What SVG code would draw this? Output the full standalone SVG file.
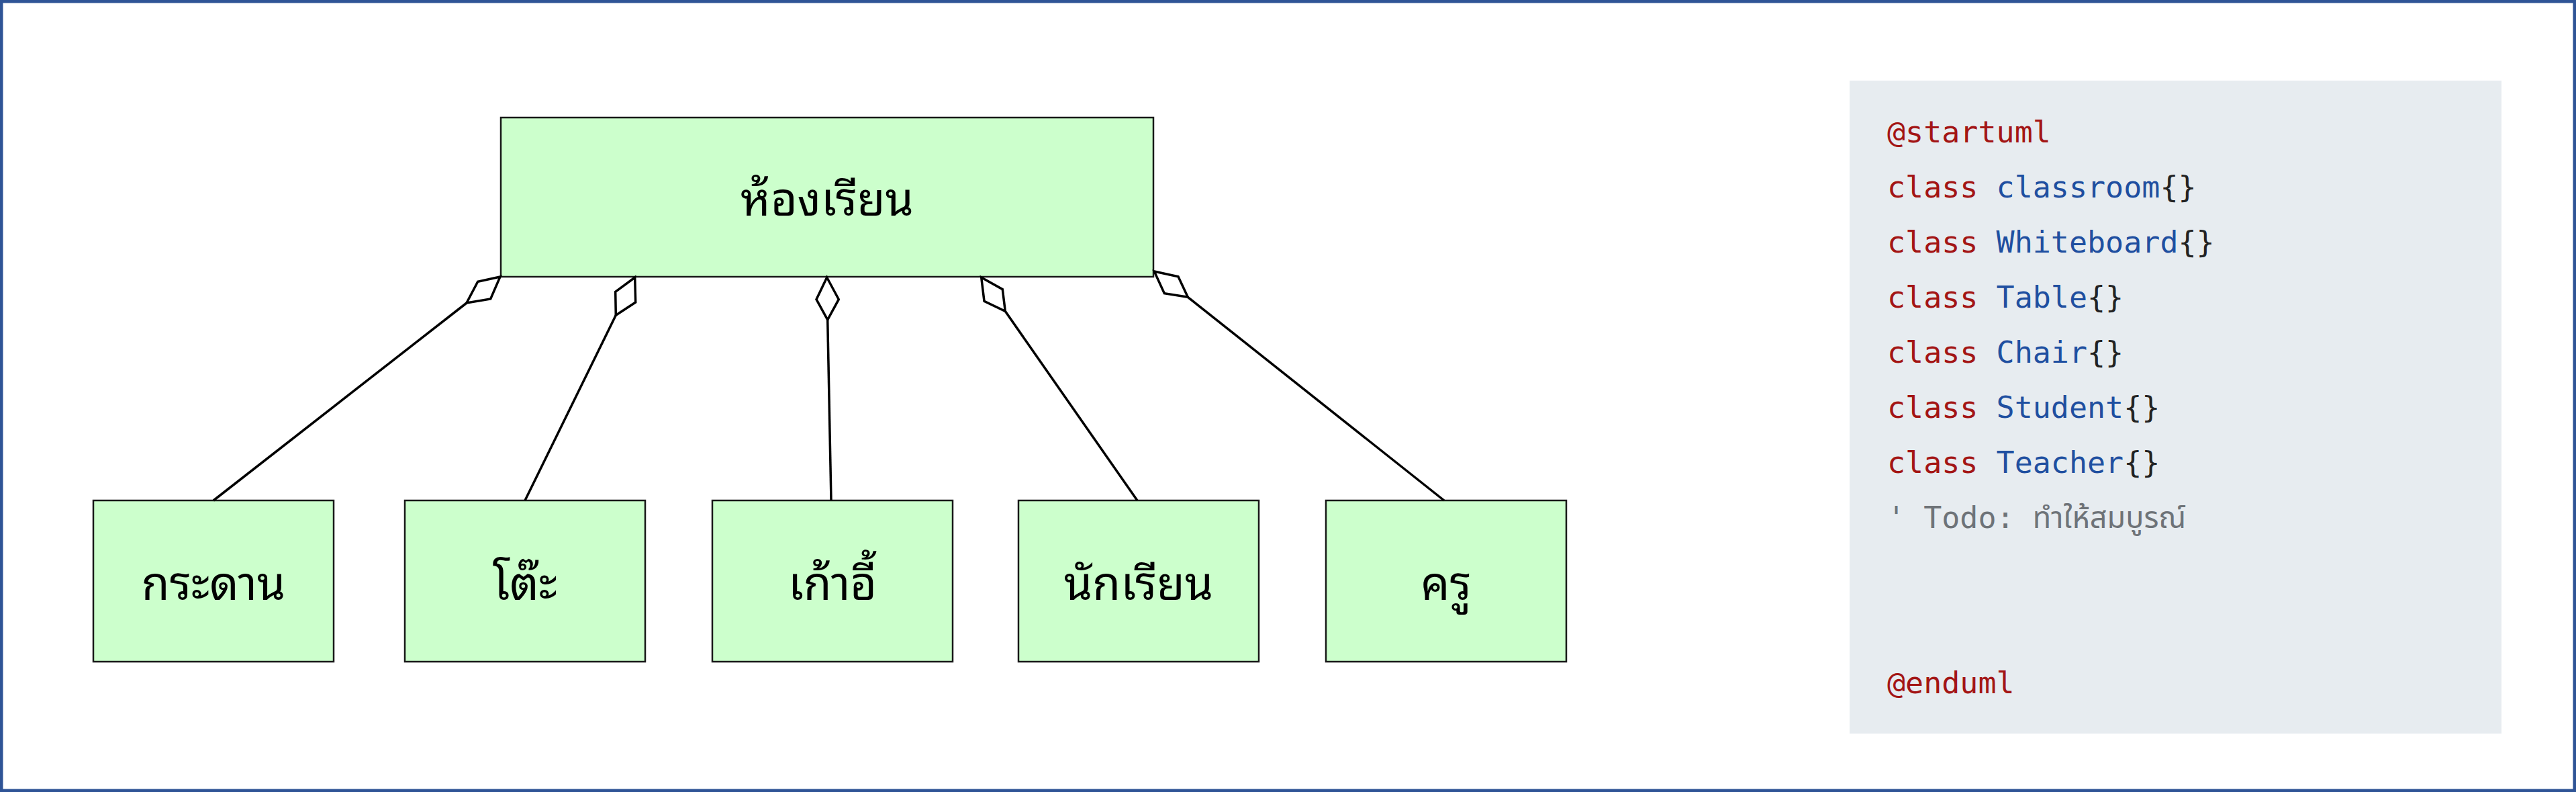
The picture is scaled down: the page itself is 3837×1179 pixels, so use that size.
<svg xmlns="http://www.w3.org/2000/svg" width="3837" height="1179" viewBox="0 0 3837 1179">
<style>
.node rect{fill:#CCFFCC;stroke:#181818;stroke-width:2.5}
.lbl{font-family:"Noto Sans Thai Looped","Noto Sans Thai","Tahoma","Noto Sans","DejaVu Sans",sans-serif;font-size:68px;fill:#000;text-anchor:middle}
.conn line{stroke:#000;stroke-width:3.5}
.conn polygon{fill:#fff;stroke:#000;stroke-width:3.5;stroke-linejoin:miter}
.code{font-family:"DejaVu Sans Mono","Liberation Mono","Noto Sans Thai",monospace;font-size:45px}
.kw{fill:#A31515}
.nm{fill:#1F4FA0}
.br{fill:#222}
.cm{fill:#6E7378}
</style>
<rect x="0" y="0" width="3837" height="1179" fill="#fff"/>
<rect x="2.25" y="2.25" width="3832.5" height="1174.5" fill="none" stroke="#2F5496" stroke-width="4.5"/>
<g id="classroom" class="node">
<rect x="746" y="175" width="972" height="237"/>
<text class="lbl" x="1232" y="321">ห้องเรียน</text>
</g>
<g id="whiteboard" class="node">
<rect x="139" y="745" width="358" height="240"/>
<text class="lbl" x="318" y="893">กระดาน</text>
</g>
<g id="table" class="node">
<rect x="603" y="745" width="358" height="240"/>
<text class="lbl" x="782" y="893">โต๊ะ</text>
</g>
<g id="chair" class="node">
<rect x="1061" y="745" width="358" height="240"/>
<text class="lbl" x="1240" y="893">เก้าอี้</text>
</g>
<g id="student" class="node">
<rect x="1517" y="745" width="358" height="240"/>
<text class="lbl" x="1696" y="893">นักเรียน</text>
</g>
<g id="teacher" class="node">
<rect x="1975" y="745" width="358" height="240"/>
<text class="lbl" x="2154" y="893">ครู</text>
</g>
<g id="connectors" class="conn">
<line x1="695" y1="451" x2="318" y2="745"/>
<polygon points="745,412 711.7,419.3 695,451 730.7,445"/>
<line x1="917.3" y1="469.3" x2="782" y2="745"/>
<polygon points="945.7,413 916.7,434.3 917.3,469.3 946.7,450"/>
<line x1="1232.7" y1="476" x2="1238" y2="745"/>
<polygon points="1231.7,413 1216,445.7 1232.7,476 1249.3,445.7"/>
<line x1="1497.3" y1="463.3" x2="1694" y2="745"/>
<polygon points="1461.7,413 1493.3,430.7 1497.3,463.3 1466,448.3"/>
<line x1="1769.3" y1="442.3" x2="2151" y2="745"/>
<polygon points="1719.3,404 1755,411.7 1769.3,442.3 1734.3,436.7"/>
</g>
<g id="code">
<rect x="2755" y="120" width="971" height="972" fill="#E7ECF0"/>
<text class="code" x="2811" y="212"><tspan class="kw">@startuml</tspan></text>
<text class="code" x="2811" y="294"><tspan class="kw">class</tspan> <tspan class="nm">classroom</tspan><tspan class="br">{}</tspan></text>
<text class="code" x="2811" y="376"><tspan class="kw">class</tspan> <tspan class="nm">Whiteboard</tspan><tspan class="br">{}</tspan></text>
<text class="code" x="2811" y="458"><tspan class="kw">class</tspan> <tspan class="nm">Table</tspan><tspan class="br">{}</tspan></text>
<text class="code" x="2811" y="540"><tspan class="kw">class</tspan> <tspan class="nm">Chair</tspan><tspan class="br">{}</tspan></text>
<text class="code" x="2811" y="622"><tspan class="kw">class</tspan> <tspan class="nm">Student</tspan><tspan class="br">{}</tspan></text>
<text class="code" x="2811" y="704"><tspan class="kw">class</tspan> <tspan class="nm">Teacher</tspan><tspan class="br">{}</tspan></text>
<text class="code cm" x="2811" y="786">' Todo: ทำให้สมบูรณ์</text>
<text class="code" x="2811" y="1032"><tspan class="kw">@enduml</tspan></text>
</g>
</svg>
